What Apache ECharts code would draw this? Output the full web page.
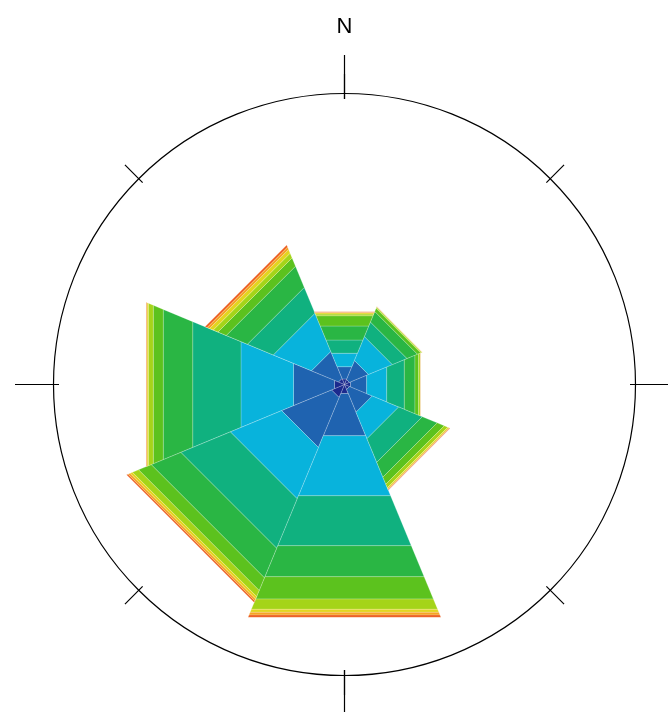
<!DOCTYPE html>
<html>
<head>
<meta charset="utf-8">
<script src="https://cdn.jsdelivr.net/npm/echarts@6/dist/echarts.min.js"></script>
<style>
  html, body { margin: 0; padding: 0; background: #ffffff; }
  #chart { width: 668px; height: 712px; }
</style>
</head>
<body>
<div id="chart"></div>
<script>
// Wind directions (compass sectors, 45 degrees wide)
const directions = ['N', 'NE', 'E', 'SE', 'S', 'SW', 'W', 'NW'];
const directionAngles = [0, 45, 90, 135, 180, 225, 270, 315];

// Frequency (%) per direction for each speed class, innermost class first
const speedClass1  = [0.49, 0.45, 0.54, 0.45, 0.80, 1.16, 0.89, 0.54];
const speedClass2  = [1.10, 1.69, 1.44, 2.03, 3.77, 4.46, 3.66, 2.41];
const speedClass3  = [1.20, 2.14, 1.79, 2.36, 5.36, 4.58, 4.69, 3.41];
const speedClass4  = [1.18, 1.30, 1.57, 2.11, 4.46, 4.42, 4.31, 2.31];
const speedClass5  = [1.25, 0.94, 0.95, 1.32, 2.77, 2.64, 2.63, 1.89];
const speedClass6  = [0.92, 0.29, 0.32, 0.63, 1.99, 1.13, 0.89, 0.74];
const speedClass7  = [0.15, 0.10, 0.16, 0.32, 0.92, 0.54, 0.44, 0.42];
const speedClass8  = [0.12, 0.03, 0.02, 0.11, 0.27, 0.22, 0.12, 0.33];
const speedClass9  = [0.05, 0.01, 0.02, 0.06, 0.24, 0.18, 0.06, 0.22];
const speedClass10 = [0.04, 0.01, 0.01, 0.04, 0.20, 0.13, 0.03, 0.18];

const speedClasses = [speedClass1, speedClass2, speedClass3, speedClass4, speedClass5,
                      speedClass6, speedClass7, speedClass8, speedClass9, speedClass10];
const speedClassNames = ['class 1', 'class 2', 'class 3', 'class 4', 'class 5',
                         'class 6', 'class 7', 'class 8', 'class 9', 'class 10'];

// Tick labels on the compass ring
const compassLabels = { 0: 'N' };

// Radial extent of the outer ring (%)
const radiusMax = 24;

const classColors = ['#1b2a8e', '#1f63b0', '#08b3dc', '#10b17f', '#2ab644',
                     '#5cc21e', '#a5d419', '#e3d51f', '#f5a323', '#ec5b1b'];

const SECTOR_HALF = 22.5;
const wrapAngle = a => ((a % 360) + 360) % 360;

// Stack the classes outward, one flat-edged sector per direction and class
const running = directions.map(() => 0);
const series = speedClasses.map((values, k) => {
  const data = values.map((v, i) => {
    const inner = running[i];
    running[i] += v;
    return [directionAngles[i], inner, running[i]];
  });
  return {
    type: 'custom',
    name: speedClassNames[k],
    coordinateSystem: 'polar',
    polarIndex: 0,
    silent: true,
    animation: false,
    data: data,
    renderItem: function (params, api) {
      const ang = api.value(0);
      const r0 = api.value(1);
      const r1 = api.value(2);
      const a0 = wrapAngle(ang - SECTOR_HALF);
      const a1 = wrapAngle(ang + SECTOR_HALF);
      const points = [
        api.coord([r0, a0]),
        api.coord([r1, a0]),
        api.coord([r1, a1]),
        api.coord([r0, a1])
      ];
      return {
        type: 'polygon',
        shape: { points: points },
        style: {
          fill: classColors[k],
          stroke: 'rgba(255,255,255,0.35)',
          lineWidth: 0.6
        }
      };
    }
  };
});

const chart = echarts.init(document.getElementById('chart'), null, { renderer: 'canvas' });
const center = [344.5, 384.5];
const tickStyle = { color: '#000000', width: 1.2 };

chart.setOption({
  animation: false,
  backgroundColor: '#ffffff',
  polar: [
    { center: center, radius: 291 },    // data ring
    { center: center, radius: 329.5 },  // long cardinal ticks
    { center: center, radius: 310.5 }   // short intercardinal ticks
  ],
  radiusAxis: [
    { polarIndex: 0, type: 'value', min: 0, max: radiusMax, show: false },
    { polarIndex: 1, type: 'value', min: 0, max: 1, show: false },
    { polarIndex: 2, type: 'value', min: 0, max: 1, show: false }
  ],
  angleAxis: [
    {
      polarIndex: 0, type: 'value', min: 0, max: 360, interval: 45,
      startAngle: 90, clockwise: true,
      axisLine: { show: true, lineStyle: { color: '#000000', width: 1.2 } },
      axisTick: { show: false },
      axisLabel: { show: false },
      splitLine: { show: false }
    },
    {
      polarIndex: 1, type: 'value', min: 0, max: 360, interval: 90,
      startAngle: 90, clockwise: true,
      axisLine: { show: false },
      axisTick: { show: true, inside: true, length: 44, lineStyle: tickStyle },
      axisLabel: {
        show: true,
        margin: 17,
        color: '#000000',
        fontSize: 22,
        fontFamily: 'Liberation Sans, Arial, sans-serif',
        formatter: v => compassLabels[v] || ''
      },
      splitLine: { show: false }
    },
    {
      polarIndex: 2, type: 'value', min: 0, max: 360, interval: 45,
      startAngle: 90, clockwise: true,
      axisLine: { show: false },
      axisTick: { show: true, inside: true, length: 25, lineStyle: tickStyle },
      axisLabel: { show: false },
      splitLine: { show: false }
    }
  ],
  series: series
});
</script>
</body>
</html>
